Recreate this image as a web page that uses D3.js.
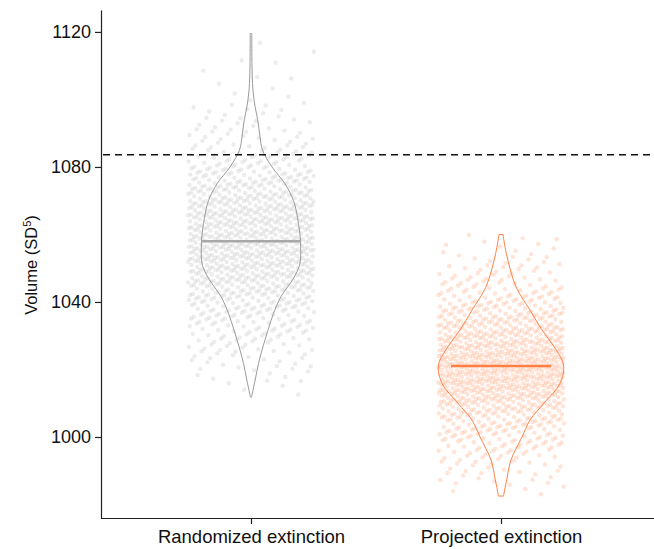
<!DOCTYPE html>
<html>
<head>
<meta charset="utf-8">
<script src="https://cdn.jsdelivr.net/npm/d3@7"></script>
<style>
  body { margin: 0; background: #fff; }
  text { font-family: "Liberation Sans", Arial, Helvetica, sans-serif; }
</style>
</head>
<body>
<svg id="chart" width="654" height="549"></svg>
<script>
// groups on the x axis
var groups = ["Randomized extinction", "Projected extinction"];

// violin outlines: value -> relative density
var randVals = [1011.8, 1016.9, 1021.8, 1026.8, 1031.7, 1036.6, 1041.6, 1046.5, 1049, 1051.5, 1058, 1065, 1070, 1075, 1080, 1085, 1089, 1094, 1098, 1103, 1110, 1119.5];
var randDens = [0.008, 0.067, 0.12, 0.192, 0.272, 0.36, 0.48, 0.664, 0.736, 0.784, 0.792, 0.744, 0.68, 0.544, 0.336, 0.184, 0.144, 0.107, 0.064, 0.03, 0.016, 0.013];

var projVals = [982.5, 987.3, 993.2, 1000, 1005, 1010, 1015.9, 1021.3, 1026.8, 1031.7, 1037.6, 1044.5, 1054.4, 1060];
var projDens = [0.04, 0.091, 0.16, 0.336, 0.464, 0.688, 0.944, 1.0, 0.848, 0.656, 0.464, 0.24, 0.085, 0.032];

var medians = [1058, 1021];
var threshold = 1083.6;
var yTicks = [1000, 1040, 1080, 1120];
var nPoints = 1000;

var strokeColors = ["#9a9a9a", "#ff7f45"];
var medianColors = ["#a8a8a8", "#ff7f45"];
var pointColors = ["#b4b4b4", "#ff9565"];

var svg = d3.select("#chart");
var width = 654;

var y = d3.scaleLinear().domain([976, 1126.5]).range([518, 10]);
var x = d3.scalePoint().domain(groups).range([101, 651]).padding(0.6);
var w = d3.scaleLinear().domain([0, 1]).range([0, 62.5]);
var jitter = d3.scaleLinear().domain([0, 1]).range([-63, 63]);

var violins = [
  { name: groups[0], vals: randVals, dens: randDens, median: medians[0], i: 0 },
  { name: groups[1], vals: projVals, dens: projDens, median: medians[1], i: 1 }
];

// points spread along each violin's density (inverse cdf), deterministic jitter
function cloud(v) {
  var grid = [], cum = [], total = 0;
  var dens = d3.scaleLinear().domain(v.vals).range(v.dens);
  var lo = v.vals[0], hi = v.vals[v.vals.length - 1];
  for (var k = 0; k <= 400; k++) {
    var t = lo + (hi - lo) * k / 400;
    grid.push(t);
    total += dens(t);
    cum.push(total);
  }
  var inv = d3.scaleLinear().domain(cum.map(function(c) { return c / total; })).range(grid);
  var g = 1.32471795724, a1 = 1 / g, a2 = 1 / (g * g);
  var pts = [];
  for (var i = 0; i < nPoints; i++) {
    var u = (0.37 + a1 * (i + 1) + 0.13 * v.i) % 1;
    var s = (0.61 + a2 * (i + 1)) % 1;
    pts.push({ value: inv(u), off: s });
  }
  return pts;
}

var plot = svg.append("g");

violins.forEach(function(v) {
  var cx = x(v.name);

  plot.append("g")
    .selectAll("circle")
    .data(cloud(v))
    .join("circle")
    .attr("cx", function(d) { return cx + jitter(d.off); })
    .attr("cy", function(d) { return y(d.value); })
    .attr("r", 2.2)
    .attr("fill", pointColors[v.i])
    .attr("fill-opacity", 0.26);

  var outline = v.vals.map(function(val, k) { return [val, v.dens[k]]; });

  var area = d3.area()
    .y(function(d) { return y(d[0]); })
    .x0(function(d) { return cx - w(d[1]); })
    .x1(function(d) { return cx + w(d[1]); })
    .curve(d3.curveCatmullRom);

  plot.append("path")
    .datum(outline)
    .attr("d", area)
    .attr("fill", "none")
    .attr("stroke", strokeColors[v.i])
    .attr("stroke-width", 1);

  plot.append("line")
    .attr("x1", cx - 50)
    .attr("x2", cx + 50)
    .attr("y1", y(v.median))
    .attr("y2", y(v.median))
    .attr("stroke", medianColors[v.i])
    .attr("stroke-width", 2.5);
});

// dashed reference line
svg.append("line")
  .attr("x1", 103)
  .attr("x2", 650)
  .attr("y1", y(threshold))
  .attr("y2", y(threshold))
  .attr("stroke", "#111")
  .attr("stroke-width", 1.6)
  .attr("stroke-dasharray", "7,5");

// axes
var yAxis = svg.append("g")
  .attr("transform", "translate(101,0)")
  .call(d3.axisLeft(y).tickValues(yTicks).tickFormat(d3.format("d"))
    .tickSize(6).tickSizeOuter(0).tickPadding(4));

var xAxis = svg.append("g")
  .attr("transform", "translate(0,518)")
  .call(d3.axisBottom(x).tickSize(6).tickSizeOuter(0).tickPadding(6));

xAxis.select(".domain").attr("d", "M101,0.5H" + width);

[yAxis, xAxis].forEach(function(a) {
  a.selectAll(".domain, .tick line").attr("stroke", "#222").attr("stroke-width", 1.2);
  a.selectAll("text").attr("fill", "#111").style("font-size", "18px");
});
xAxis.selectAll("text").style("font-size", "18.5px");

var title = svg.append("text")
  .attr("transform", "translate(37,265) rotate(-90)")
  .attr("text-anchor", "middle")
  .attr("fill", "#111")
  .style("font-size", "16.5px");
title.append("tspan").text("Volume (SD");
title.append("tspan").attr("dy", -6).style("font-size", "11px").text("5");
title.append("tspan").attr("dy", 6).text(")");
</script>
</body>
</html>
